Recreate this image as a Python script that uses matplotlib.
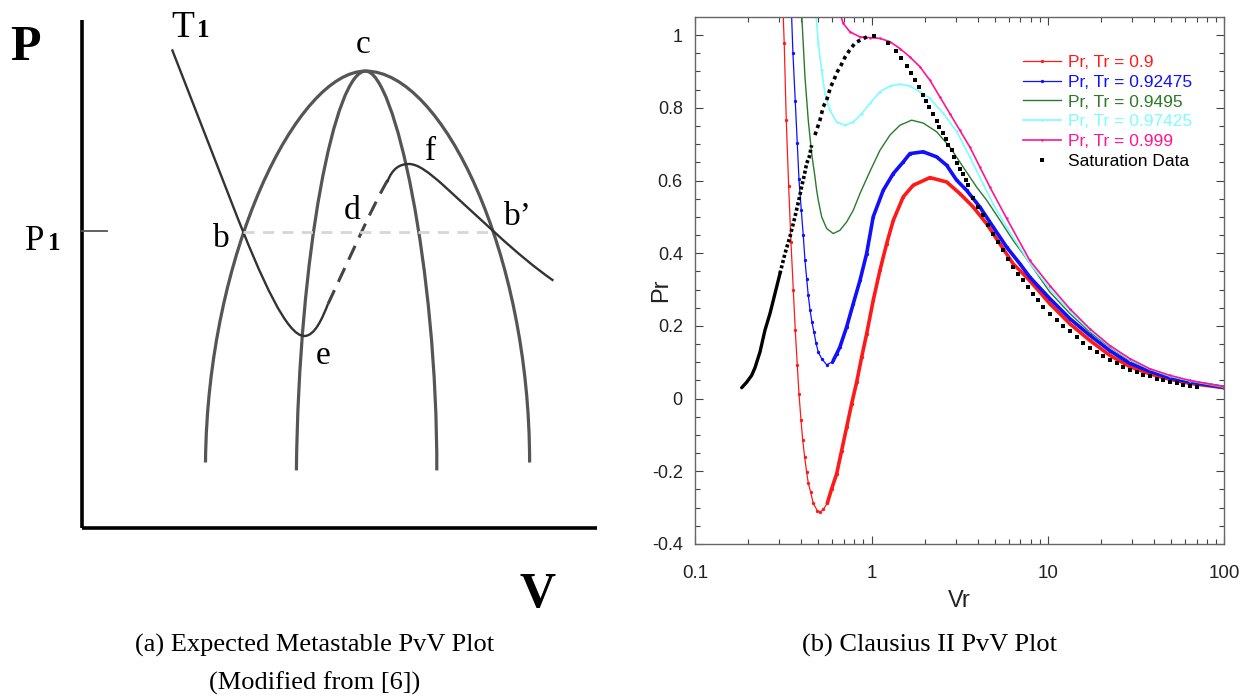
import numpy as np
import matplotlib
matplotlib.use("Agg")
import matplotlib.pyplot as plt
from matplotlib.path import Path
from matplotlib.patches import PathPatch
from matplotlib.ticker import MultipleLocator, LogLocator, NullFormatter

plt.rcParams['font.family'] = ['Liberation Sans', 'DejaVu Sans']
SERIF = ['Liberation Serif', 'DejaVu Serif']

# ---------------- Clausius II isotherms (reduced volume / reduced pressure)
red_vr = np.array([0.315, 0.3196, 0.3282, 0.3387, 0.349, 0.3597, 0.3692, 0.379, 0.3875, 0.3977,
                   0.4067, 0.4174, 0.4285, 0.4375, 0.4515, 0.4671, 0.492, 0.5097, 0.5322, 0.5608,
                   0.594, 0.634, 0.6767, 0.7223, 0.7713, 0.8232, 0.8789, 0.938, 1.022, 1.116,
                   1.218, 1.328, 1.513, 1.724, 2.145, 2.667, 3.172, 3.776, 4.498, 5.35,
                   6.36, 7.58, 9.02, 10.28, 13.35, 17.33, 22.5, 29.23, 37.94, 49.27, 63.97, 100])
red_pr = np.array([1.06, 0.977, 0.766, 0.584, 0.431, 0.300, 0.188, 0.092, 0.013, -0.058,
                   -0.113, -0.161, -0.203, -0.232, -0.258, -0.288, -0.308, -0.312, -0.305, -0.288,
                   -0.248, -0.207, -0.143, -0.079, -0.014, 0.045, 0.114, 0.178, 0.270, 0.353,
                   0.426, 0.490, 0.555, 0.587, 0.608, 0.596, 0.564, 0.527, 0.481, 0.426,
                   0.371, 0.334, 0.293, 0.261, 0.206, 0.160, 0.119, 0.088, 0.068, 0.053, 0.042, 0.030])

blue_vr = np.array([0.3515, 0.3581, 0.3692, 0.379, 0.3875, 0.3992, 0.4098, 0.419, 0.4285, 0.4375,
                    0.4473, 0.4591, 0.4713, 0.4838, 0.4986, 0.5212, 0.5563, 0.594, 0.6065, 0.6338,
                    0.6616, 0.7223, 0.7874, 0.8597, 0.938, 1.022, 1.165, 1.328, 1.513, 1.651,
                    1.965, 2.341, 2.667, 3.039, 3.463, 4.12, 4.902, 5.839, 6.946, 7.914,
                    10.28, 13.35, 17.33, 22.5, 29.23, 37.94, 49.27, 63.97, 100])
blue_pr = np.array([1.06, 0.950, 0.818, 0.702, 0.603, 0.520, 0.449, 0.382, 0.330, 0.284,
                    0.245, 0.210, 0.183, 0.154, 0.128, 0.110, 0.093, 0.100, 0.105, 0.123,
                    0.142, 0.197, 0.261, 0.325, 0.399, 0.500, 0.573, 0.619, 0.651, 0.674,
                    0.679, 0.665, 0.642, 0.601, 0.573, 0.527, 0.472, 0.417, 0.371, 0.334,
                    0.275, 0.220, 0.174, 0.132, 0.097, 0.075, 0.057, 0.046, 0.031])

green_vr = np.array([0.4013, 0.419, 0.4375, 0.4573, 0.4775, 0.4882, 0.4986, 0.5212, 0.5563, 0.6065,
                     0.6616, 0.7223, 0.7874, 0.8597, 0.938, 0.9792, 1.116, 1.272, 1.449, 1.688,
                     1.965, 2.341, 2.784, 3.312, 3.946, 4.498, 5.35, 6.364, 7.58, 10.28,
                     13.35, 17.33, 22.5, 29.23, 37.94, 49.27, 63.97, 100])
green_pr = np.array([1.06, 0.885, 0.766, 0.674, 0.610, 0.573, 0.546, 0.500, 0.468, 0.454,
                     0.463, 0.486, 0.518, 0.564, 0.605, 0.625, 0.683, 0.725, 0.752, 0.766,
                     0.758, 0.734, 0.692, 0.637, 0.582, 0.546, 0.491, 0.435, 0.385, 0.293,
                     0.234, 0.183, 0.142, 0.105, 0.080, 0.061, 0.048, 0.030])

cyan_vr = np.array([0.4838, 0.4986, 0.5212, 0.5441, 0.5808, 0.6338, 0.7068, 0.7874, 0.8789, 0.9792,
                    1.116, 1.272, 1.449, 1.651, 1.881, 2.144, 2.551, 3.039, 3.615, 4.301,
                    4.902, 5.839, 6.946, 7.914, 10.28, 13.35, 17.33, 22.5, 29.23, 37.94,
                    49.27, 63.97, 100])
cyan_pr = np.array([1.06, 0.977, 0.904, 0.839, 0.793, 0.761, 0.752, 0.761, 0.784, 0.812,
                    0.844, 0.860, 0.865, 0.860, 0.844, 0.826, 0.785, 0.735, 0.665, 0.590,
                    0.535, 0.472, 0.415, 0.372, 0.302, 0.241, 0.188, 0.144, 0.107, 0.081,
                    0.062, 0.049, 0.032])

magenta_vr = np.array([0.6616, 0.691, 0.7541, 0.8597, 0.9792, 1.116, 1.272, 1.449, 1.651, 1.881,
                       2.144, 2.443, 2.784, 3.172, 3.615, 4.12, 4.695, 5.839, 7.914, 10.28,
                       13.35, 17.33, 22.5, 29.23, 37.94, 49.27, 63.97, 100])
magenta_pr = np.array([1.06, 1.032, 1.009, 0.995, 0.993, 0.991, 0.982, 0.963, 0.940, 0.913,
                       0.876, 0.830, 0.784, 0.738, 0.692, 0.637, 0.582, 0.496, 0.380, 0.311,
                       0.247, 0.192, 0.146, 0.110, 0.082, 0.064, 0.050, 0.033])

# saturation dome: liquid branch, then vapour branch
sat_liq_vr = np.array([0.1833, 0.1956, 0.2089, 0.2181, 0.2328, 0.2484, 0.2653, 0.2832, 0.3023, 0.3227,
                       0.3444, 0.3677, 0.3925, 0.4013, 0.4152, 0.4285, 0.4432, 0.4573, 0.4775, 0.4947,
                       0.5097, 0.5321, 0.5563, 0.5861, 0.6118, 0.6338, 0.6679, 0.7068, 0.7472, 0.8082,
                       0.9579])
sat_liq_pr = np.array([0.030, 0.045, 0.064, 0.085, 0.128, 0.188, 0.234, 0.289, 0.344, 0.399,
                       0.445, 0.500, 0.560, 0.584, 0.614, 0.647, 0.665, 0.697, 0.725, 0.747,
                       0.766, 0.803, 0.821, 0.858, 0.876, 0.896, 0.915, 0.939, 0.957, 0.979,
                       0.997])
sat_vap_vr = np.array([1.032, 1.244, 1.375, 1.468, 1.581, 1.673, 1.763, 1.865, 1.950,
                       2.035, 2.125, 2.239, 2.341, 2.421, 2.531, 2.642, 2.723, 2.847, 2.945,
                       3.063, 3.172, 3.286, 3.431, 3.536, 3.775, 4.030, 4.301, 4.592, 4.902,
                       5.232, 5.585, 5.963, 6.364, 6.794, 7.253, 7.743, 8.265, 8.823, 9.417,
                       10.28, 11.22, 12.23, 13.35, 14.57, 15.88, 17.33, 18.92, 20.62, 22.50,
                       24.56, 26.77, 29.23, 31.89, 34.76, 37.94, 41.41, 45.13, 49.27, 53.78,
                       58.61, 63.97, 69.82])
sat_vap_pr = np.array([0.998, 0.977, 0.957, 0.936, 0.915, 0.896, 0.876, 0.856, 0.835,
                       0.819, 0.801, 0.784, 0.764, 0.747, 0.731, 0.713, 0.697, 0.683, 0.665,
                       0.648, 0.633, 0.617, 0.601, 0.587, 0.552, 0.527, 0.504, 0.477, 0.454,
                       0.431, 0.408, 0.385, 0.362, 0.344, 0.325, 0.307, 0.289, 0.270, 0.252,
                       0.234, 0.217, 0.201, 0.186, 0.169, 0.153, 0.140, 0.128, 0.117, 0.107,
                       0.098, 0.088, 0.080, 0.074, 0.066, 0.061, 0.055, 0.050, 0.045, 0.042,
                       0.038, 0.034, 0.032])

series_labels = ['Pr, Tr = 0.9', 'Pr, Tr = 0.92475', 'Pr, Tr = 0.9495',
                 'Pr, Tr = 0.97425', 'Pr, Tr = 0.999', 'Saturation Data']
ytick_vals = [-0.4, -0.2, 0, 0.2, 0.4, 0.6, 0.8, 1]
ytick_labels = ['-0.4', '-0.2', '0', '0.2', '0.4', '0.6', '0.8', '1']
xtick_vals = [0.1, 1, 10, 100]
xtick_labels = ['0.1', '1', '10', '100']

# ---------------- schematic P-V diagram (arbitrary units, Bezier control points)
dome_pts = [(2.464, 1.316), (2.50, 5.5), (4.3, 9.144), (5.666, 9.144),
            (7.2, 9.144), (8.95, 5.5), (8.946, 1.316)]
spinodal_pts = [(4.282, 1.158), (4.33, 5.5), (5.05, 9.144), (5.666, 9.144),
                (6.25, 9.144), (7.1, 5.2), (7.09, 1.158)]
iso_liquid = [(1.794, 9.578), (3.0, 6.48), (3.6, 4.93), (4.1, 3.846), (4.44, 3.846),
              (4.65, 3.846), (4.8, 4.2), (4.914, 4.486)]
iso_unstable = [(4.914, 4.486), (5.3, 5.3), (5.85, 6.55), (6.12, 6.98)]
iso_vapour = [(6.102, 6.93), (6.2, 7.2), (6.35, 7.286), (6.534, 7.286), (6.72, 7.286),
              (6.95, 7.1), (7.2, 6.88), (7.9, 6.25), (8.7, 5.45), (9.422, 4.954)]
p1_level = 5.926
b_point = (3.21, p1_level)
b2_point = (8.23, p1_level)
axis_top = 10.17
axis_right = 10.29

point_labels = [('c', 5.468, 9.498), ('b', 2.614, 5.626), ('d', 5.234, 6.186),
                ('f', 6.854, 7.366), ('b\u2019', 8.434, 6.066), ('e', 4.674, 3.286)]


def bezier_path(pts, first_line=False):
    codes = [Path.MOVETO]
    rest = len(pts) - 1
    if first_line:
        codes.append(Path.LINETO)
        rest -= 1
    codes += [Path.CURVE4] * rest
    return Path(pts, codes)


fig = plt.figure(figsize=(12.47, 6.98), dpi=100)

# ---- left: schematic
axl = fig.add_axes([0, 0, 620 / 1247, 1])
axl.set_xlim(-1.646, 10.754)
axl.set_ylim(-3.394, 10.566)
axl.axis('off')

axl.plot([0, 0], [0, axis_top], color='black', lw=2.6, solid_capstyle='butt')
axl.plot([0, axis_right], [0, 0], color='black', lw=2.6, solid_capstyle='butt')
axl.plot([0, 0.494], [p1_level + 0.02, p1_level + 0.02], color='#555555', lw=1.3)
axl.plot([b_point[0], b2_point[0]], [p1_level, p1_level], color='#d6d6d6', lw=2.0,
         dashes=(4, 3))

for pts in (dome_pts, spinodal_pts):
    axl.add_patch(PathPatch(bezier_path(pts), fill=False, edgecolor='#555555', lw=2.3))
axl.add_patch(PathPatch(bezier_path(iso_liquid, first_line=True), fill=False,
                        edgecolor='#333333', lw=1.7))
axl.add_patch(PathPatch(bezier_path(iso_unstable), fill=False, edgecolor='#444444',
                        lw=2.2, linestyle=(0, (5, 3))))
axl.add_patch(PathPatch(bezier_path(iso_vapour), fill=False, edgecolor='#333333', lw=1.7))

axl.text(-1.446, 9.366, 'P', family=SERIF, fontsize=36, fontweight='bold',
         ha='left', va='baseline')
axl.text(8.754, -1.574, 'V', family=SERIF, fontsize=36, fontweight='bold',
         ha='left', va='baseline')
axl.text(1.788, 9.832, 'T', family=SERIF, fontsize=27, ha='left', va='baseline')
axl.text(2.288, 9.832, '1', family=SERIF, fontsize=18, fontweight='bold',
         ha='left', va='baseline')
axl.text(-1.146, 5.566, 'P', family=SERIF, fontsize=25, ha='left', va='baseline')
axl.text(-0.68, 5.566, '1', family=SERIF, fontsize=18, fontweight='bold',
         ha='left', va='baseline')
for txt, x, y in point_labels:
    axl.text(x, y, txt, family=SERIF, fontsize=24, ha='left', va='baseline')

# ---- right: Clausius II isotherms
ax = fig.add_axes([695.3 / 1247, (698 - 544) / 698, (1224 - 695.3) / 1247, (544 - 17.3) / 698])
ax.set_xscale('log')

c_red, c_blue, c_green = '#ff1a1a', '#1010ff', '#2a7a2a'
c_cyan, c_mag = '#7ffcff', '#ff1493'

ax.plot(red_vr, red_pr, color=c_red, lw=0.9, marker='o', ms=2.4, mew=0,
        label=series_labels[0])
m = red_vr >= 0.55
ax.plot(red_vr[m], red_pr[m], color=c_red, lw=2.6, solid_capstyle='round')
ax.plot(blue_vr, blue_pr, color=c_blue, lw=0.9, marker='o', ms=2.4, mew=0,
        label=series_labels[1])
m = blue_vr >= 0.6
ax.plot(blue_vr[m], blue_pr[m], color=c_blue, lw=2.6, solid_capstyle='round')
ax.plot(green_vr, green_pr, color=c_green, lw=1.0, label=series_labels[2])
ax.plot(cyan_vr, cyan_pr, color=c_cyan, lw=1.2, marker='.', ms=1.5, label=series_labels[3])
ax.plot(magenta_vr, magenta_pr, color=c_mag, lw=1.2, marker='.', ms=1.5,
        label=series_labels[4])

# liquid branch: densely sampled points, merging into a dotted trace
m = sat_liq_vr <= 0.31
ax.plot(sat_liq_vr[m], sat_liq_pr[m], color='black', lw=2.4, solid_capstyle='round')
m = (sat_liq_vr >= 0.30) & (sat_liq_vr <= 0.47)
ax.plot(sat_liq_vr[m], sat_liq_pr[m], color='black', lw=2.6, dashes=(0.85, 0.65))
m = sat_liq_vr >= 0.46
ax.plot(sat_liq_vr[m], sat_liq_pr[m], color='black', lw=2.6, dashes=(1.0, 1.05))
ax.plot(sat_vap_vr, sat_vap_pr, ls='none', color='black', marker='s', ms=2.6, mew=0,
        label=series_labels[5])

ax.set_xlim(0.1, 100)
ax.set_ylim(-0.4, 1.049)
ax.set_xticks(xtick_vals, xtick_labels)
ax.set_yticks(ytick_vals, ytick_labels)
ax.yaxis.set_minor_locator(MultipleLocator(0.05))
ax.xaxis.set_minor_locator(LogLocator(base=10, subs=np.arange(2, 10)))
ax.xaxis.set_minor_formatter(NullFormatter())
ax.tick_params(which='both', direction='in', top=True, right=True, color='#444444',
               width=0.8)
ax.tick_params(which='major', length=6)
ax.tick_params(which='minor', length=3.5)
ax.tick_params(axis='y', labelsize=13, pad=9, labelcolor='#222222')
ax.tick_params(axis='x', labelsize=13.5, pad=15, labelcolor='#222222')
for s in ax.spines.values():
    s.set_color('#666666')
    s.set_linewidth(1.0)
ax.set_xlabel('Vr', fontsize=17, labelpad=6, color='#222222')
ax.set_ylabel('Pr', fontsize=17, color='#222222')
ax.yaxis.set_label_coords(-0.044, 0.482)

ax.legend(loc='upper left', bbox_to_anchor=(0.619, 0.929), frameon=False, fontsize=12.5,
          labelcolor='linecolor', handlelength=2.2, handletextpad=0.4, labelspacing=0.27,
          borderpad=0, borderaxespad=0, numpoints=1)

fig.text(315 / 1247, 1 - 645 / 698, '(a) Expected Metastable PvV Plot', family=SERIF,
         fontsize=19, ha='center', va='center')
fig.text(315 / 1247, 1 - 683 / 698, '(Modified from [6])', family=SERIF,
         fontsize=19, ha='center', va='center')
fig.text(930 / 1247, 1 - 645 / 698, '(b) Clausius II PvV Plot', family=SERIF,
         fontsize=19, ha='center', va='center')

fig.savefig('out.png', dpi=100)
